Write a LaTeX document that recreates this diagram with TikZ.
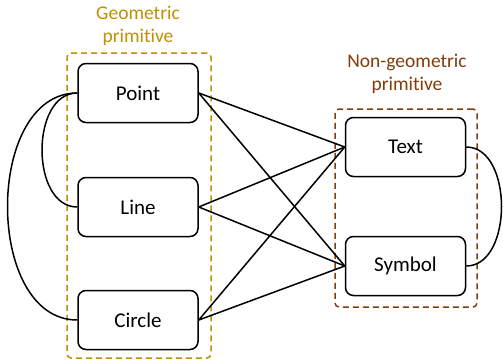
\documentclass[tikz,border=0pt]{standalone}
\usepackage{fontspec}
\setmainfont[Ligatures=NoCommon]{Carlito}
\begin{document}
\begin{tikzpicture}[x=1pt,y=-1pt,
  prim/.style={draw=black,line width=1.5pt,rounded corners=8pt,minimum width=120pt,minimum height=59pt,inner sep=0pt,font=\fontsize{21}{25}\selectfont},
  group/.style={draw,dashed,line width=1.5pt,dash pattern=on 6pt off 4pt,rounded corners=4pt},
  ttl/.style={align=center,font=\fontsize{19.5}{23}\selectfont,inner sep=0pt},
  conn/.style={line width=1.5pt}]
\definecolor{gold}{HTML}{BF9000}
\definecolor{brn}{HTML}{843C0C}
\useasboundingbox (0,0) rectangle (503,362);
\node[group,draw=gold,minimum width=144pt,minimum height=305pt] (G) at (139,205.5) {};
\node[group,draw=brn,minimum width=142pt,minimum height=198pt] (N) at (406,208) {};
\node[ttl,text=gold] (GT) at (138,26) {Geometric\\primitive};
\node[ttl,text=brn] (NT) at (407,74) {Non-geometric\\primitive};
\node[prim] (P) at (138,93) {Point};
\node[prim] (L) at (138,207) {Line};
\node[prim] (C) at (138,320) {Circle};
\node[prim] (T) at (405.5,147) {Text};
\node[prim] (S) at (405.5,266) {Symbol};
\foreach \a in {P,L,C}{
  \draw[conn] (\a.east) -- (T.west);
  \draw[conn] (\a.east) -- (S.west);
}
\draw[conn] (P.west) .. controls +(-47,0) and +(-47,0) .. (L.west);
\draw[conn] (P.west) .. controls +(-93,0) and +(-93,0) .. (C.west);
\draw[conn] (T.east) .. controls +(47,0) and +(47,0) .. (S.east);
\end{tikzpicture}
\end{document}
